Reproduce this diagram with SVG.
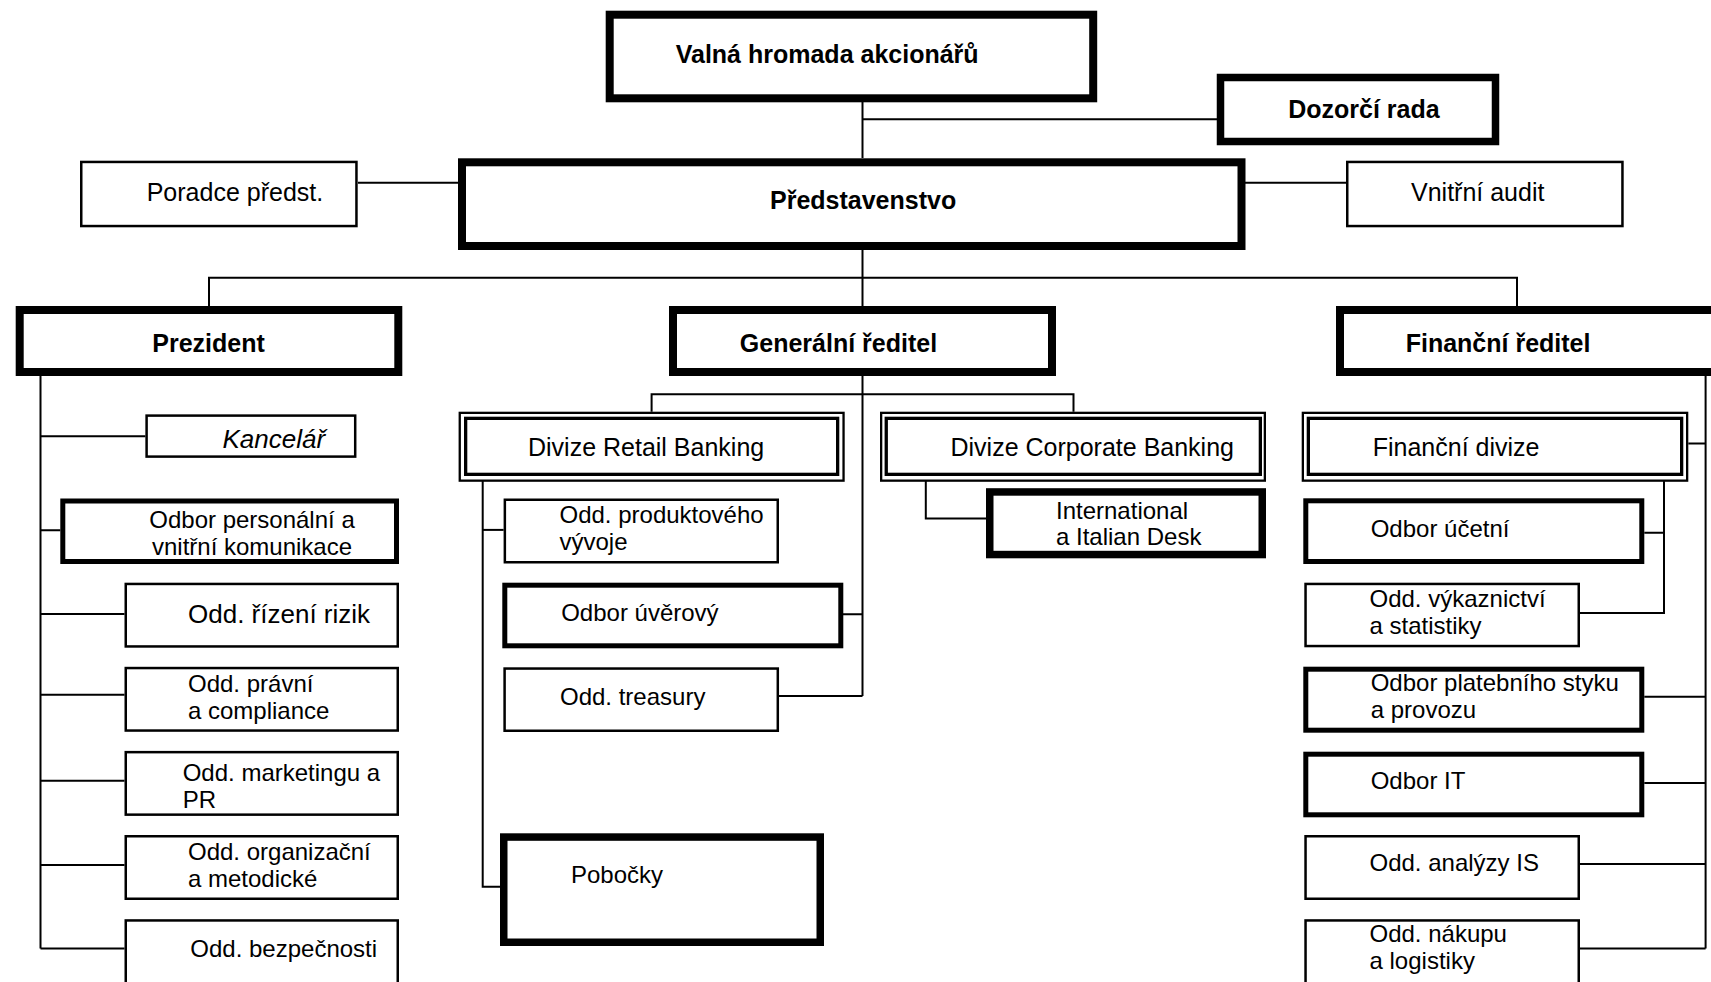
<svg xmlns="http://www.w3.org/2000/svg" width="1711" height="982" viewBox="0 0 1711 982">
<style>
rect{fill:#fff;stroke:#000}
.t1{stroke-width:2.5}
.t2{stroke-width:5}
.t3{stroke-width:7.5}
.t4{stroke-width:8}
.o{stroke-width:2.3}
.i{stroke-width:3.3}
#connectors path{fill:none;stroke:#000;stroke-width:2}
text{font-family:"Liberation Sans",Arial,sans-serif;font-size:24px;fill:#000}
.b{font-weight:bold;font-size:25px}
.d{font-size:25px}
</style>
<rect x="0" y="0" width="1711" height="982" style="fill:#fff;stroke:none"/>
<g id="connectors">
<path d="M862.5 101V158"/>
<path d="M862.5 119.3H1217"/>
<path d="M358 182.7H458"/>
<path d="M1245 182.7H1346"/>
<path d="M862.5 250V306"/>
<path d="M209 306V277.7H1517V306"/>
<path d="M40.5 376V948.6"/>
<path d="M40.5 436.2H145.4M40.5 530.3H60.3M40.5 614H124.5M40.5 694.7H124.5M40.5 780.8H124.5M40.5 864.9H124.5M40.5 948.6H124.5"/>
<path d="M862.5 376V696"/>
<path d="M651.6 411.7V394.3H1073.5V411.7"/>
<path d="M843 614.3H862.5M779 696H862.5"/>
<path d="M482.7 476V886.7H502"/>
<path d="M482.7 529.9H503.6"/>
<path d="M925.8 477V518.4H986"/>
<path d="M1705.6 376V948.6"/>
<path d="M1688.3 443.5H1705.6"/>
<path d="M1644.3 696.7H1705.6M1644.3 783H1705.6M1580 864H1705.6M1580 948.6H1705.6"/>
<path d="M1664 476V613H1580M1644.3 532.7H1664"/>
</g>
<g id="valna"><rect class="t4" x="609.7" y="14.7" width="483.5" height="83.6"/><text class="b" x="675.7" y="62.5">Valná hromada akcionářů</text></g>
<g id="dozorci"><rect class="t3" x="1220.5" y="77.5" width="275" height="64"/><text class="b" x="1288.2" y="117.7">Dozorčí rada</text></g>
<g id="predstavenstvo"><rect class="t4" x="462" y="162.3" width="779.5" height="83.7"/><text class="b" x="770" y="209.3">Představenstvo</text></g>
<g id="poradce"><rect class="t1" x="81.25" y="161.95" width="275.2" height="64.1"/><text class="d" x="146.7" y="201">Poradce předst.</text></g>
<g id="audit"><rect class="t1" x="1347.25" y="161.95" width="275.2" height="64.1"/><text class="d" x="1411" y="201">Vnitřní audit</text></g>
<g id="prezident"><rect class="t4" x="19.7" y="310" width="378.6" height="62"/><text class="b" x="152.3" y="351.7">Prezident</text></g>
<g id="generalni"><rect class="t4" x="673" y="310" width="379" height="62"/><text class="b" x="739.8" y="351.7">Generální ředitel</text></g>
<g id="financni-reditel"><rect class="t4" x="1340" y="310" width="420" height="62"/><text class="b" x="1405.7" y="351.7">Finanční ředitel</text></g>
<g id="kancelar"><rect class="t1" x="146.6" y="415.6" width="208.6" height="41"/><text x="222.5" y="448" style="font-style:italic;font-size:26px">Kancelář</text></g>
<g id="personalni"><rect class="t2" x="62.8" y="501" width="333.7" height="60.5"/><text x="252" y="528" text-anchor="middle">Odbor personální a</text><text x="252" y="555" text-anchor="middle">vnitřní komunikace</text></g>
<g id="rizika"><rect class="t1" x="125.75" y="583.95" width="272" height="62.5"/><text x="188" y="623.3" style="font-size:26px">Odd. řízení rizik</text></g>
<g id="pravni"><rect class="t1" x="125.75" y="668.05" width="272" height="62.5"/><text x="188" y="692.3">Odd. právní</text><text x="188" y="719.2">a compliance</text></g>
<g id="marketing"><rect class="t1" x="125.75" y="752.15" width="272" height="62.5"/><text x="182.7" y="781.4">Odd. marketingu a</text><text x="182.7" y="808.3">PR</text></g>
<g id="organizacni"><rect class="t1" x="125.75" y="836.25" width="272" height="62.5"/><text x="188" y="859.8">Odd. organizační</text><text x="188" y="886.6">a metodické</text></g>
<g id="bezpecnost"><rect class="t1" x="125.75" y="920.45" width="272" height="100"/><text x="190.3" y="957.3">Odd. bezpečnosti</text></g>
<g id="retail"><rect class="o" x="459.75" y="412.85" width="383.8" height="67.8"/><rect class="i" x="465.65" y="418.35" width="372" height="56"/><text class="d" x="528" y="455.5">Divize Retail Banking</text></g>
<g id="produktovy"><rect class="t1" x="504.85" y="499.75" width="272.9" height="62.5"/><text x="559.5" y="523.3">Odd. produktového</text><text x="559.5" y="550.1">vývoje</text></g>
<g id="uverovy"><rect class="t2" x="504.8" y="585.2" width="336" height="60.6"/><text x="561.2" y="621">Odbor úvěrový</text></g>
<g id="treasury"><rect class="t1" x="504.6" y="668.55" width="273.2" height="62.2"/><text x="560" y="705">Odd. treasury</text></g>
<g id="pobocky"><rect class="t3" x="503.75" y="837.05" width="316.5" height="105.2"/><text x="571" y="883.3">Pobočky</text></g>
<g id="corporate"><rect class="o" x="881.15" y="412.85" width="383.7" height="67.8"/><rect class="i" x="886.25" y="418.35" width="374.1" height="56"/><text class="d" x="950.5" y="455.5">Divize Corporate Banking</text></g>
<g id="international"><rect class="t3" x="989.75" y="491.95" width="272.5" height="62.6"/><text x="1056" y="518.5">International</text><text x="1056" y="545.3">a Italian Desk</text></g>
<g id="financni-divize"><rect class="o" x="1302.85" y="412.85" width="384.3" height="67.8"/><rect class="i" x="1308.35" y="418.35" width="373.3" height="56"/><text class="d" x="1372.7" y="455.5">Finanční divize</text></g>
<g id="ucetni"><rect class="t2" x="1305.8" y="500.8" width="336" height="60.7"/><text x="1370.7" y="536.7">Odbor účetní</text></g>
<g id="vykaznictvi"><rect class="t1" x="1305.55" y="583.95" width="273.2" height="62.1"/><text x="1369.5" y="606.9">Odd. výkaznictví</text><text x="1369.5" y="633.6">a statistiky</text></g>
<g id="platebni"><rect class="t2" x="1305.8" y="669.2" width="336" height="61"/><text x="1370.7" y="691.3">Odbor platebního styku</text><text x="1370.7" y="718.3">a provozu</text></g>
<g id="it"><rect class="t2" x="1305.8" y="754.2" width="336" height="60.6"/><text x="1370.7" y="789.3">Odbor IT</text></g>
<g id="analyzy"><rect class="t1" x="1305.55" y="836.25" width="273.2" height="62.5"/><text x="1369.5" y="871.3">Odd. analýzy IS</text></g>
<g id="nakup"><rect class="t1" x="1305.55" y="920.45" width="273.2" height="100"/><text x="1369.5" y="942">Odd. nákupu</text><text x="1369.5" y="968.8">a logistiky</text></g>
</svg>
